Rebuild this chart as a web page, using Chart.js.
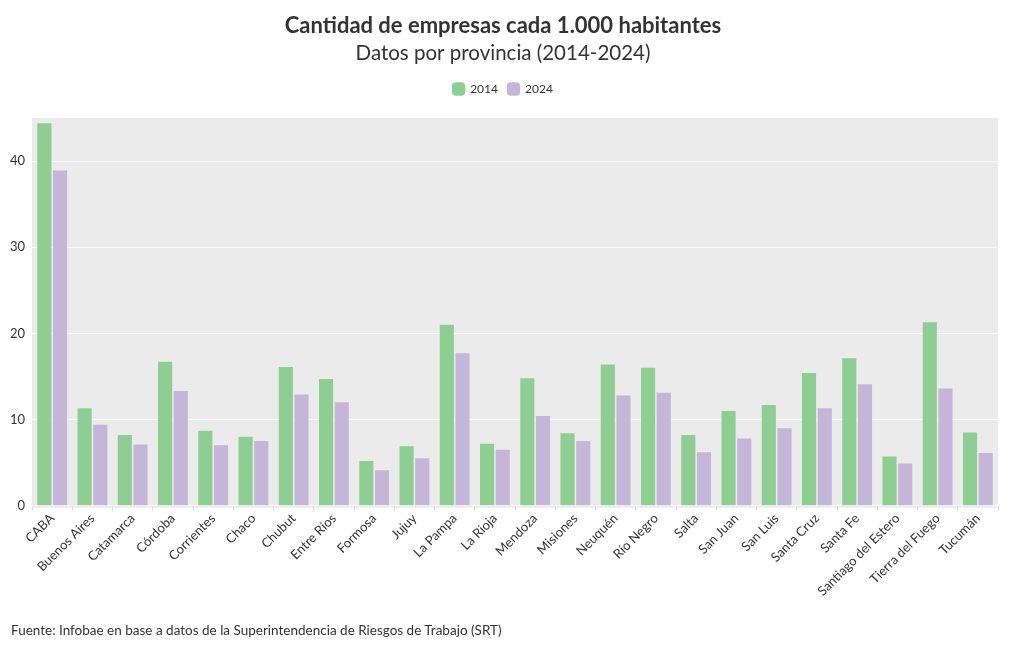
<!DOCTYPE html>
<html><head><meta charset="utf-8">
<script src="https://cdn.jsdelivr.net/npm/chart.js@4.4.1/dist/chart.umd.min.js"></script>
<style>
html,body{margin:0;padding:0;background:#fff;}
#wrap{position:relative;width:1020px;height:650px;}
#footer{position:absolute;left:11px;top:622px;font-family:"Lato","Noto Sans",sans-serif;font-size:13.5px;color:#333;}
</style></head>
<body><div id="wrap"><canvas id="c" width="1020" height="650"></canvas>
<div id="footer">Fuente: Infobae en base a datos de la Superintendencia de Riesgos de Trabajo (SRT)</div></div>
<script>
const categories = ["CABA","Buenos Aires","Catamarca","Córdoba","Corrientes","Chaco","Chubut","Entre Ríos","Formosa","Jujuy","La Pampa","La Rioja","Mendoza","Misiones","Neuquén","Río Negro","Salta","San Juan","San Luis","Santa Cruz","Santa Fe","Santiago del Estero","Tierra del Fuego","Tucumán"];
const values2014 = [44.4,11.3,8.2,16.7,8.7,8.0,16.1,14.7,5.2,6.9,21.0,7.2,14.8,8.4,16.4,16.0,8.2,11.0,11.7,15.4,17.1,5.7,21.3,8.5];
const values2024 = [38.9,9.4,7.1,13.3,7.0,7.5,12.9,12.0,4.1,5.5,17.7,6.5,10.4,7.5,12.8,13.1,6.2,7.8,9.0,11.3,14.1,4.9,13.6,6.1];
const yTicks = [0,10,20,30,40];

const bgPlugin = {
  id:'bg',
  beforeInit(chart){
    const lg = chart.legend;
    if (lg) { const orig = lg.fit; lg.fit = function(){ orig.call(this); this.height += 13; }; }
  },
  beforeDraw(chart){
    const {ctx, chartArea:a} = chart;
    ctx.save(); ctx.fillStyle='#ebebeb';
    ctx.fillRect(a.left, a.top, a.right-a.left, a.bottom-a.top+2);
    ctx.restore();
  }
};
const font = '"Lato","Noto Sans",sans-serif';
new Chart(document.getElementById('c'), {
  type:'bar',
  data:{labels:categories, datasets:[
    {label:'2014', data:values2014, backgroundColor:'#8fce92', barPercentage:0.9, categoryPercentage:0.78},
    {label:'2024', data:values2024, backgroundColor:'#c5b6d9', barPercentage:0.9, categoryPercentage:0.78}
  ]},
  options:{
    responsive:false, animation:false,
    layout:{padding:{left:8,right:22,top:0,bottom:51}},
    plugins:{
      title:{display:true,text:'Cantidad de empresas cada 1.000 habitantes',color:'#333',font:{family:font,size:22,weight:'bold'},padding:{top:13,bottom:2}},
      subtitle:{display:true,text:'Datos por provincia (2014-2024)',color:'#333',font:{family:font,size:20.5},padding:{bottom:7}},
      legend:{labels:{usePointStyle:true,pointStyle:'rectRounded',boxWidth:11,boxHeight:11,color:'#333',font:{family:font,size:12},padding:10}},
      tooltip:{enabled:false}
    },
    scales:{
      x:{grid:{display:true,drawOnChartArea:false,color:'#ddd',tickLength:5},border:{display:false},
         ticks:{maxRotation:45,minRotation:45,color:'#333',font:{family:font,size:13},padding:0}},
      y:{min:0,max:45,afterBuildTicks(s){s.ticks=yTicks.map(v=>({value:v}));},
         grid:{color:'rgba(255,255,255,0.7)',tickLength:5},border:{display:false},
         ticks:{color:'#333',font:{family:font,size:13},padding:2}}
    }
  },
  plugins:[bgPlugin]
});
</script></body></html>
